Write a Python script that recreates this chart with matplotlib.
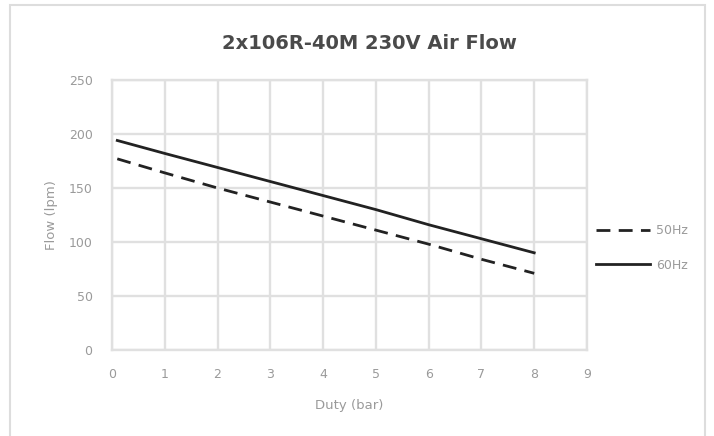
import matplotlib
matplotlib.use("Agg")
import matplotlib.pyplot as plt
from matplotlib.patches import Rectangle

# data
duty = [0.1, 1, 2, 3, 4, 5, 6, 7, 8]
flow_50hz = [177, 164, 150, 137, 124, 111, 98, 84, 71]
flow_60hz = [194, 182, 169, 156, 143, 130, 116, 103, 90]
x_ticks = list(range(0, 10))
y_ticks = [0, 50, 100, 150, 200, 250]

GRID = "#e0e0e0"
TXT = "#9a9a9a"

fig = plt.figure(figsize=(7.14, 4.36), dpi=100)
fig.patches.append(Rectangle((10 / 714, -0.01), 695 / 714, 1 - 5 / 436 + 0.01,
                             transform=fig.transFigure, fill=False,
                             edgecolor="#dddddd", linewidth=1.5))

ax = fig.add_axes([112 / 714, 1 - 350 / 436, 475 / 714, 270 / 436])
ax.plot(duty, flow_50hz, color="#222222", linewidth=2.0, linestyle=(0, (5, 3)), label="50Hz")
ax.plot(duty, flow_60hz, color="#222222", linewidth=2.0, label="60Hz")

ax.set_xlim(0, 9)
ax.set_ylim(0, 250)
ax.set_xticks(x_ticks)
ax.set_yticks(y_ticks)
ax.grid(True, color=GRID, linewidth=1.7)
ax.set_axisbelow(True)
for s in ax.spines.values():
    s.set_color(GRID)
    s.set_linewidth(1.7)
ax.tick_params(length=0, colors=TXT, labelsize=9, pad=13)
ax.tick_params(axis="y", pad=14)

ax.set_xlabel("Duty (bar)", color=TXT, fontsize=9.5, labelpad=13)
ax.set_ylabel("Flow (lpm)", color=TXT, fontsize=9.5, labelpad=8)

fig.text(0.518, 0.90, "2x106R-40M 230V Air Flow", ha="center", va="center",
         fontsize=14, fontweight="bold", color="#4a4a4a")

leg = ax.legend(loc="center left", bbox_to_anchor=(0.995, 0.378), frameon=False,
                fontsize=9, handlelength=4.3, labelspacing=1.7, handletextpad=0.5)
for t in leg.get_texts():
    t.set_color(TXT)

fig.savefig("out.png", dpi=100)
